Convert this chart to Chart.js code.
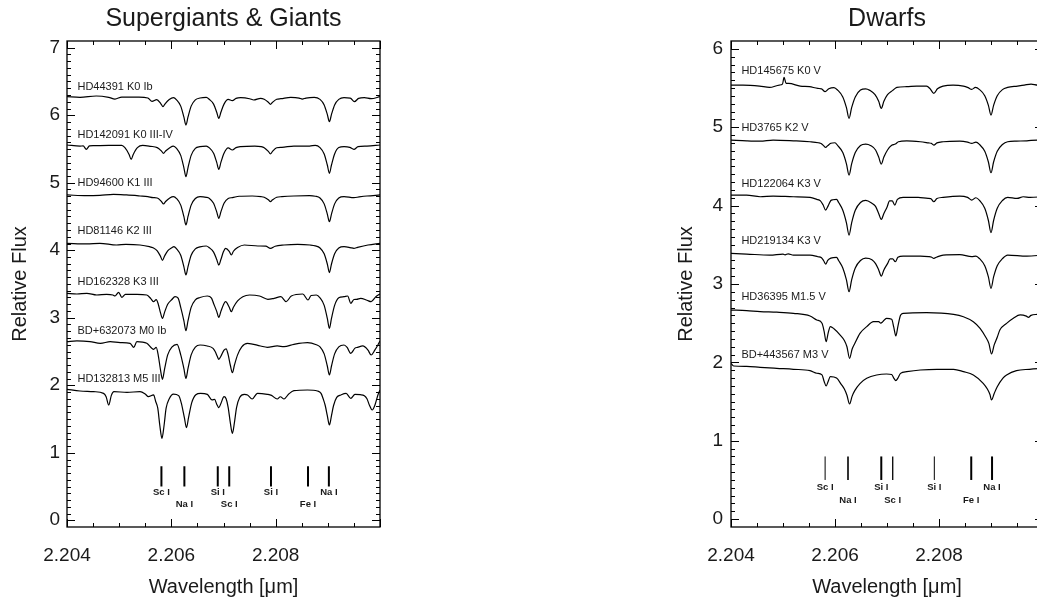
<!DOCTYPE html>
<html>
<head>
<meta charset="utf-8">
<title>Spectra</title>
<script src="https://cdn.jsdelivr.net/npm/chart.js@4.4.1/dist/chart.umd.min.js"></script>
<style>
    html, body { margin: 0; padding: 0; background: #fff; overflow: hidden; }
    body { position: relative; width: 1037px; height: 605px; }
    canvas { position: absolute; top: 0; }
    #giants-chart { left: 0; }
    #dwarfs-chart { left: 660px; }
</style>
</head>
<body>
<canvas id="giants-chart" width="420" height="605"></canvas>
<canvas id="dwarfs-chart" width="420" height="605"></canvas>
<script>
/**
 * K밴드 2.204-2.210 μm 구간 스펙트럼 (거성 / 왜성)
 * 각 별의 스펙트럼은 [파장, 상대 플럭스] 목록입니다.
 */

// 축 눈금
const waveTicks = [2.204, 2.206, 2.208];
const giantFluxTicks = [0, 1, 2, 3, 4, 5, 6, 7];
const dwarfFluxTicks = [0, 1, 2, 3, 4, 5, 6];

// 흡수선 표시
const markWaves = [2.20581, 2.20625, 2.20689, 2.20711, 2.20791, 2.20862, 2.20902];
const markNames = ['Sc I', 'Na I', 'Si I', 'Sc I', 'Si I', 'Fe I', 'Na I'];

// 별 이름
const giantNames = ['HD44391 K0 Ib', 'HD142091 K0 III-IV', 'HD94600 K1 III', 'HD81146 K2 III',
    'HD162328 K3 III', 'BD+632073 M0 Ib', 'HD132813 M5 III'];
const dwarfNames = ['HD145675 K0 V', 'HD3765 K2 V', 'HD122064 K3 V', 'HD219134 K3 V',
    'HD36395 M1.5 V', 'BD+443567 M3 V'];

// 거성 스펙트럼
const hd44391 = [
    [2.20400, 6.275], [2.20425, 6.265], [2.20456, 6.285], [2.20480, 6.265], [2.20492, 6.240], [2.20505, 6.270],
    [2.20538, 6.270], [2.20555, 6.255], [2.20563, 6.205],
    [2.20572, 6.232], [2.20580, 6.170], [2.20584, 6.127], [2.20588, 6.170], [2.20596, 6.232], [2.20604, 6.260],
    [2.20610, 6.227], [2.20618, 6.135], [2.20624, 5.975], [2.20628, 5.855], [2.20632, 5.975], [2.20638, 6.135], [2.20646, 6.227],
    [2.20655, 6.255], [2.20667, 6.265],
    [2.20673, 6.234], [2.20681, 6.165], [2.20687, 6.045], [2.20691, 5.954], [2.20695, 6.045], [2.20701, 6.165], [2.20709, 6.234],
    [2.20717, 6.216], [2.20724, 6.250], [2.20733, 6.260], [2.20750, 6.245], [2.20758, 6.226], [2.20771, 6.250],
    [2.20778, 6.237], [2.20786, 6.192], [2.20790, 6.161], [2.20794, 6.192], [2.20802, 6.237],
    [2.20810, 6.245], [2.20829, 6.265], [2.20845, 6.255], [2.20851, 6.240], [2.20858, 6.255], [2.20874, 6.265],
    [2.20885, 6.235], [2.20893, 6.153], [2.20899, 6.012], [2.20903, 5.905], [2.20907, 6.012], [2.20913, 6.153], [2.20921, 6.235],
    [2.20931, 6.260], [2.20943, 6.255], [2.20951, 6.201], [2.20959, 6.250], [2.20970, 6.260], [2.20983, 6.245], [2.21000, 6.275]
];
const hd142091 = [
    [2.20400, 5.559], [2.20425, 5.544], [2.20431, 5.545], [2.20437, 5.495], [2.20443, 5.545], [2.20451, 5.549],
    [2.20480, 5.554], [2.20505, 5.554],
    [2.20511, 5.520], [2.20519, 5.420], [2.20523, 5.347], [2.20527, 5.420], [2.20535, 5.520], [2.20545, 5.554],
    [2.20560, 5.540],
    [2.20573, 5.520], [2.20581, 5.470], [2.20585, 5.436], [2.20589, 5.470], [2.20597, 5.520], [2.20604, 5.544],
    [2.20610, 5.509], [2.20618, 5.405], [2.20624, 5.225], [2.20628, 5.090], [2.20632, 5.225], [2.20638, 5.405], [2.20646, 5.509],
    [2.20655, 5.535], [2.20667, 5.544],
    [2.20673, 5.516], [2.20681, 5.438], [2.20687, 5.302], [2.20691, 5.199], [2.20695, 5.302], [2.20701, 5.438], [2.20709, 5.516],
    [2.20717, 5.485], [2.20724, 5.520], [2.20733, 5.535], [2.20760, 5.544], [2.20772, 5.535],
    [2.20778, 5.519], [2.20786, 5.464], [2.20790, 5.426], [2.20794, 5.464], [2.20802, 5.519],
    [2.20812, 5.525], [2.20835, 5.544], [2.20865, 5.544], [2.20876, 5.554],
    [2.20885, 5.521], [2.20893, 5.427], [2.20899, 5.263], [2.20903, 5.140], [2.20907, 5.263], [2.20913, 5.427], [2.20921, 5.521],
    [2.20931, 5.535], [2.20942, 5.525], [2.20950, 5.495], [2.20958, 5.535], [2.20975, 5.544], [2.21000, 5.559]
];
const hd94600 = [
    [2.20400, 4.819], [2.20438, 4.809], [2.20463, 4.814], [2.20489, 4.828], [2.20514, 4.819], [2.20540, 4.804],
    [2.20555, 4.794], [2.20565, 4.779],
    [2.20573, 4.774], [2.20581, 4.722], [2.20585, 4.685], [2.20589, 4.722], [2.20597, 4.774], [2.20604, 4.794],
    [2.20610, 4.766], [2.20618, 4.669], [2.20624, 4.501], [2.20628, 4.374], [2.20632, 4.501], [2.20638, 4.669], [2.20646, 4.766],
    [2.20655, 4.794], [2.20667, 4.784],
    [2.20673, 4.768], [2.20681, 4.695], [2.20687, 4.568], [2.20691, 4.473], [2.20695, 4.568], [2.20701, 4.695], [2.20709, 4.768],
    [2.20717, 4.780], [2.20730, 4.800], [2.20755, 4.804], [2.20772, 4.794],
    [2.20778, 4.785], [2.20786, 4.747], [2.20790, 4.720], [2.20794, 4.747], [2.20802, 4.785],
    [2.20812, 4.794], [2.20835, 4.804], [2.20865, 4.809], [2.20876, 4.800],
    [2.20885, 4.774], [2.20893, 4.687], [2.20899, 4.536], [2.20903, 4.423], [2.20907, 4.536], [2.20913, 4.687], [2.20921, 4.774],
    [2.20931, 4.794], [2.20950, 4.779], [2.20960, 4.790], [2.20975, 4.804], [2.21000, 4.819]
];
const hd81146 = [
    [2.20400, 4.103], [2.20438, 4.093], [2.20463, 4.103], [2.20495, 4.078], [2.20513, 4.088], [2.20540, 4.078], [2.20558, 4.053],
    [2.20565, 4.036], [2.20573, 3.992], [2.20579, 3.914], [2.20583, 3.850], [2.20587, 3.914], [2.20593, 3.992], [2.20601, 4.036],
    [2.20605, 4.055],
    [2.20610, 4.021], [2.20618, 3.925], [2.20624, 3.758], [2.20628, 3.633], [2.20632, 3.758], [2.20638, 3.925], [2.20646, 4.021],
    [2.20655, 4.050], [2.20667, 4.063],
    [2.20673, 4.036], [2.20681, 3.973], [2.20687, 3.863], [2.20691, 3.781], [2.20695, 3.863], [2.20700, 3.980],
    [2.20704, 4.028], [2.20711, 3.985], [2.20715, 3.930], [2.20719, 3.985], [2.20727, 4.040],
    [2.20740, 4.078], [2.20766, 4.063], [2.20781, 4.060], [2.20790, 4.028], [2.20799, 4.060], [2.20816, 4.078],
    [2.20842, 4.088], [2.20866, 4.078], [2.20876, 4.065],
    [2.20885, 4.034], [2.20893, 3.947], [2.20899, 3.796], [2.20903, 3.670], [2.20907, 3.796], [2.20913, 3.947], [2.20921, 4.034],
    [2.20931, 4.053], [2.20943, 4.040], [2.20950, 4.028], [2.20957, 4.043], [2.20977, 4.078], [2.21000, 4.103]
];
const hd162328 = [
    [2.20400, 3.362], [2.20419, 3.352], [2.20438, 3.362], [2.20457, 3.337], [2.20476, 3.347], [2.20488, 3.337],
    [2.20492, 3.322], [2.20499, 3.377], [2.20505, 3.302], [2.20512, 3.347], [2.20534, 3.347], [2.20553, 3.337],
    [2.20561, 3.280], [2.20566, 3.238], [2.20571, 3.270],
    [2.20575, 3.200], [2.20579, 3.080], [2.20583, 2.991], [2.20587, 3.080], [2.20593, 3.200], [2.20601, 3.270],
    [2.20607, 3.312], [2.20613, 3.290],
    [2.20618, 3.153], [2.20624, 2.957], [2.20628, 2.809], [2.20632, 2.957], [2.20638, 3.153], [2.20646, 3.266],
    [2.20655, 3.300], [2.20669, 3.322], [2.20677, 3.290],
    [2.20681, 3.212], [2.20687, 3.094], [2.20691, 3.006], [2.20695, 3.094], [2.20701, 3.212], [2.20704, 3.238],
    [2.20711, 3.156], [2.20715, 3.090], [2.20719, 3.156], [2.20727, 3.250],
    [2.20737, 3.312], [2.20750, 3.337], [2.20769, 3.322], [2.20785, 3.273], [2.20797, 3.288], [2.20810, 3.312],
    [2.20820, 3.238], [2.20830, 3.322], [2.20852, 3.352], [2.20862, 3.263], [2.20868, 3.330], [2.20878, 3.337],
    [2.20885, 3.296], [2.20893, 3.184], [2.20899, 2.990], [2.20903, 2.843], [2.20907, 2.990], [2.20913, 3.184], [2.20921, 3.296],
    [2.20931, 3.312], [2.20938, 3.322], [2.20944, 3.214], [2.20950, 3.270], [2.20955, 3.273], [2.20963, 3.288],
    [2.20975, 3.260], [2.20983, 3.238], [2.20992, 3.312], [2.21000, 3.352]
];
const bd632073 = [
    [2.20400, 2.646], [2.20419, 2.656], [2.20444, 2.646], [2.20464, 2.621], [2.20483, 2.646], [2.20502, 2.631],
    [2.20521, 2.621], [2.20528, 2.562], [2.20534, 2.646], [2.20553, 2.621], [2.20566, 2.532], [2.20571, 2.560],
    [2.20575, 2.440], [2.20579, 2.240], [2.20583, 2.088], [2.20587, 2.240], [2.20593, 2.450], [2.20601, 2.565], [2.20611, 2.606],
    [2.20618, 2.450], [2.20624, 2.250], [2.20628, 2.102], [2.20632, 2.250], [2.20638, 2.450], [2.20646, 2.565],
    [2.20655, 2.596], [2.20669, 2.582], [2.20680, 2.547],
    [2.20684, 2.500], [2.20688, 2.430], [2.20691, 2.384], [2.20695, 2.430], [2.20701, 2.520], [2.20705, 2.540],
    [2.20709, 2.450], [2.20713, 2.300], [2.20717, 2.186], [2.20721, 2.300], [2.20727, 2.450], [2.20735, 2.570],
    [2.20746, 2.621], [2.20771, 2.582], [2.20784, 2.562], [2.20803, 2.582], [2.20816, 2.572], [2.20835, 2.606],
    [2.20861, 2.631], [2.20878, 2.600],
    [2.20885, 2.569], [2.20893, 2.465], [2.20899, 2.285], [2.20903, 2.152], [2.20907, 2.285], [2.20913, 2.465], [2.20921, 2.569],
    [2.20931, 2.596], [2.20937, 2.560], [2.20944, 2.473], [2.20952, 2.550], [2.20957, 2.562], [2.20967, 2.582],
    [2.20977, 2.520], [2.20983, 2.448], [2.20990, 2.520], [2.20996, 2.596], [2.21000, 2.656]
];
const hd132813 = [
    [2.20400, 1.940], [2.20425, 1.915], [2.20451, 1.905], [2.20470, 1.880], [2.20475, 1.830], [2.20480, 1.707],
    [2.20485, 1.850], [2.20490, 1.905], [2.20515, 1.895], [2.20540, 1.905], [2.20550, 1.870], [2.20556, 1.831], [2.20566, 1.856],
    [2.20570, 1.760], [2.20574, 1.660], [2.20578, 1.400], [2.20582, 1.214], [2.20586, 1.400], [2.20590, 1.660],
    [2.20596, 1.800], [2.20604, 1.870], [2.20614, 1.846],
    [2.20619, 1.740], [2.20625, 1.520], [2.20629, 1.372], [2.20633, 1.520], [2.20639, 1.740], [2.20647, 1.860],
    [2.20656, 1.880], [2.20669, 1.865], [2.20678, 1.782], [2.20683, 1.790],
    [2.20687, 1.720], [2.20691, 1.668], [2.20695, 1.730], [2.20701, 1.831],
    [2.20705, 1.800], [2.20709, 1.670], [2.20713, 1.450], [2.20717, 1.288], [2.20721, 1.450], [2.20725, 1.670], [2.20731, 1.820],
    [2.20740, 1.865], [2.20746, 1.856], [2.20755, 1.796], [2.20765, 1.880], [2.20784, 1.865], [2.20792, 1.850],
    [2.20803, 1.796], [2.20809, 1.830], [2.20816, 1.796], [2.20825, 1.870], [2.20835, 1.920], [2.20861, 1.930],
    [2.20880, 1.915], [2.20887, 1.880],
    [2.20891, 1.800], [2.20895, 1.700], [2.20899, 1.550], [2.20903, 1.411], [2.20907, 1.550], [2.20911, 1.700], [2.20917, 1.820],
    [2.20925, 1.856], [2.20935, 1.880], [2.20944, 1.806], [2.20952, 1.865], [2.20962, 1.860], [2.20970, 1.846],
    [2.20975, 1.800], [2.20980, 1.700], [2.20985, 1.633], [2.20990, 1.700], [2.20996, 1.856], [2.21000, 1.930]
];

// 왜성 스펙트럼
const hd145675 = [
    [2.20400, 5.538], [2.20423, 5.538], [2.20455, 5.525], [2.20474, 5.508], [2.20493, 5.538], [2.20499, 5.550],
    [2.20502, 5.636], [2.20506, 5.560], [2.20511, 5.559], [2.20533, 5.525], [2.20551, 5.517], [2.20567, 5.495],
    [2.20574, 5.490], [2.20581, 5.453], [2.20588, 5.490], [2.20598, 5.505],
    [2.20605, 5.474], [2.20615, 5.387], [2.20622, 5.250], [2.20627, 5.113], [2.20632, 5.250], [2.20639, 5.387], [2.20649, 5.474],
    [2.20659, 5.490],
    [2.20667, 5.470], [2.20677, 5.415], [2.20684, 5.330], [2.20689, 5.240], [2.20694, 5.330], [2.20701, 5.415], [2.20711, 5.470],
    [2.20719, 5.508], [2.20738, 5.517], [2.20757, 5.525], [2.20776, 5.525],
    [2.20783, 5.490], [2.20790, 5.431], [2.20797, 5.490],
    [2.20808, 5.525], [2.20827, 5.538], [2.20847, 5.525], [2.20856, 5.505], [2.20863, 5.483], [2.20870, 5.508],
    [2.20878, 5.480], [2.20888, 5.402], [2.20895, 5.279], [2.20900, 5.155], [2.20905, 5.279], [2.20912, 5.402], [2.20922, 5.480],
    [2.20932, 5.508], [2.20951, 5.525], [2.20964, 5.538], [2.20977, 5.551], [2.20990, 5.538], [2.21000, 5.540]
];
const hd3765 = [
    [2.20400, 4.836], [2.20430, 4.827], [2.20456, 4.823], [2.20481, 4.836], [2.20520, 4.827], [2.20552, 4.815], [2.20568, 4.802],
    [2.20574, 4.790], [2.20578, 4.765], [2.20582, 4.742], [2.20586, 4.765], [2.20592, 4.795], [2.20600, 4.802],
    [2.20605, 4.767], [2.20615, 4.677], [2.20622, 4.533], [2.20627, 4.390], [2.20632, 4.533], [2.20639, 4.677], [2.20649, 4.767],
    [2.20659, 4.785],
    [2.20669, 4.765], [2.20678, 4.710], [2.20684, 4.620], [2.20689, 4.530], [2.20694, 4.620], [2.20701, 4.710], [2.20709, 4.770],
    [2.20716, 4.785], [2.20722, 4.815], [2.20738, 4.827], [2.20764, 4.815], [2.20780, 4.800],
    [2.20785, 4.795], [2.20790, 4.772], [2.20796, 4.800],
    [2.20808, 4.815], [2.20840, 4.823], [2.20855, 4.810], [2.20863, 4.793], [2.20871, 4.810],
    [2.20878, 4.779], [2.20888, 4.693], [2.20895, 4.556], [2.20900, 4.419], [2.20905, 4.556], [2.20912, 4.693], [2.20922, 4.779],
    [2.20932, 4.815], [2.20949, 4.823], [2.20969, 4.827], [2.20989, 4.836], [2.21000, 4.836]
];
const hd122064 = [
    [2.20400, 4.134], [2.20430, 4.134], [2.20456, 4.113], [2.20481, 4.122], [2.20520, 4.113], [2.20552, 4.105], [2.20565, 4.079],
    [2.20572, 4.060], [2.20577, 4.010], [2.20582, 3.943], [2.20587, 4.000], [2.20592, 4.065], [2.20596, 4.075], [2.20603, 4.079],
    [2.20607, 4.040], [2.20615, 3.940], [2.20622, 3.780], [2.20627, 3.624], [2.20632, 3.780], [2.20639, 3.940], [2.20649, 4.040],
    [2.20659, 4.066],
    [2.20671, 4.030], [2.20678, 3.990], [2.20684, 3.900], [2.20689, 3.824], [2.20694, 3.900], [2.20700, 3.980],
    [2.20705, 4.060], [2.20710, 4.060], [2.20715, 4.007], [2.20720, 4.080], [2.20731, 4.105],
    [2.20760, 4.105], [2.20779, 4.092],
    [2.20784, 4.090], [2.20790, 4.049], [2.20796, 4.090],
    [2.20808, 4.105], [2.20840, 4.122], [2.20855, 4.105], [2.20863, 4.071], [2.20871, 4.100],
    [2.20878, 4.065], [2.20888, 3.966], [2.20895, 3.810], [2.20900, 3.654], [2.20905, 3.810], [2.20912, 3.966], [2.20922, 4.065],
    [2.20932, 4.105], [2.20950, 4.092], [2.20962, 4.113], [2.20975, 4.105], [2.21000, 4.113]
];
const hd219134 = [
    [2.20400, 3.390], [2.20430, 3.382], [2.20475, 3.369], [2.20500, 3.382], [2.20504, 3.372], [2.20510, 3.385],
    [2.20520, 3.369], [2.20552, 3.369], [2.20567, 3.348],
    [2.20574, 3.335], [2.20578, 3.300], [2.20582, 3.254], [2.20586, 3.300], [2.20592, 3.330], [2.20603, 3.339],
    [2.20607, 3.300], [2.20615, 3.205], [2.20622, 3.053], [2.20627, 2.901], [2.20632, 3.053], [2.20639, 3.205], [2.20649, 3.300],
    [2.20659, 3.330],
    [2.20671, 3.310], [2.20678, 3.260], [2.20684, 3.180], [2.20689, 3.101], [2.20694, 3.180], [2.20701, 3.260], [2.20706, 3.320],
    [2.20711, 3.320], [2.20716, 3.284], [2.20721, 3.340], [2.20731, 3.356],
    [2.20764, 3.356], [2.20780, 3.350],
    [2.20785, 3.345], [2.20790, 3.327], [2.20796, 3.345],
    [2.20808, 3.369], [2.20840, 3.375], [2.20863, 3.348], [2.20871, 3.356],
    [2.20878, 3.323], [2.20888, 3.233], [2.20895, 3.090], [2.20900, 2.945], [2.20905, 3.090], [2.20912, 3.233], [2.20922, 3.323],
    [2.20932, 3.369], [2.20969, 3.356], [2.21000, 3.369]
];
const hd36395 = [
    [2.20400, 2.668], [2.20430, 2.660], [2.20456, 2.647], [2.20488, 2.640], [2.20520, 2.626], [2.20552, 2.592],
    [2.20565, 2.541], [2.20575, 2.500],
    [2.20579, 2.400], [2.20583, 2.264], [2.20587, 2.380], [2.20591, 2.456],
    [2.20598, 2.430], [2.20610, 2.349], [2.20618, 2.280], [2.20623, 2.200], [2.20628, 2.052], [2.20633, 2.170],
    [2.20638, 2.240], [2.20648, 2.371], [2.20661, 2.456], [2.20674, 2.519],
    [2.20684, 2.520], [2.20688, 2.500], [2.20692, 2.520], [2.20699, 2.562], [2.20709, 2.549],
    [2.20713, 2.450], [2.20717, 2.337], [2.20721, 2.460], [2.20726, 2.600], [2.20731, 2.626],
    [2.20776, 2.634], [2.20828, 2.613], [2.20847, 2.583], [2.20866, 2.519], [2.20879, 2.434], [2.20890, 2.320],
    [2.20896, 2.240], [2.20901, 2.107], [2.20906, 2.220], [2.20912, 2.320], [2.20917, 2.413], [2.20930, 2.498],
    [2.20943, 2.562], [2.20956, 2.605], [2.20968, 2.590], [2.20972, 2.575], [2.20977, 2.600], [2.20989, 2.613], [2.21000, 2.620]
];
const bd443567 = [
    [2.20400, 1.988], [2.20405, 1.954], [2.20430, 1.950], [2.20456, 1.937], [2.20488, 1.924], [2.20520, 1.912],
    [2.20552, 1.895], [2.20565, 1.861], [2.20575, 1.840],
    [2.20579, 1.760], [2.20583, 1.699], [2.20587, 1.760], [2.20591, 1.818],
    [2.20603, 1.800], [2.20612, 1.720], [2.20618, 1.660], [2.20623, 1.580], [2.20628, 1.469], [2.20633, 1.570],
    [2.20638, 1.640], [2.20648, 1.730], [2.20661, 1.797], [2.20680, 1.839], [2.20699, 1.852], [2.20709, 1.845],
    [2.20713, 1.800], [2.20717, 1.767], [2.20721, 1.800], [2.20726, 1.860], [2.20738, 1.882], [2.20764, 1.903],
    [2.20796, 1.912], [2.20828, 1.912], [2.20847, 1.882], [2.20866, 1.839],
    [2.20885, 1.733], [2.20893, 1.660], [2.20898, 1.590], [2.20901, 1.520], [2.20906, 1.600], [2.20912, 1.690],
    [2.20923, 1.800], [2.20930, 1.839], [2.20949, 1.895], [2.20974, 1.912], [2.21000, 1.924]
];

const FONT = "'Liberation Sans', Arial, Helvetica, sans-serif";
const INK = '#1a1a1a';

/**
 * 스펙트럼 패널 하나 (축 상자, 안쪽 눈금, 라벨 포함)
 */
class SpectraPanel {
    constructor(setup) {
        this.setup = setup;
        this.chart = null;
    }

    /**
     * 차트 생성
     */
    initialize() {
        const s = this.setup;
        const ctx = document.getElementById(s.canvasId).getContext('2d');

        this.chart = new Chart(ctx, {
            type: 'line',
            data: {
                datasets: s.spectra.map((points, i) => ({
                    label: s.names[i],
                    data: points.map(([x, y]) => ({ x, y })),
                    borderColor: '#000',
                    borderWidth: 1.2,
                    pointRadius: 0,
                    cubicInterpolationMode: 'monotone',
                    fill: false
                }))
            },
            options: {
                responsive: false,
                animation: false,
                devicePixelRatio: 1,
                layout: { padding: { top: 41, right: s.padRight, left: 0, bottom: 0 } },
                plugins: {
                    legend: { display: false },
                    tooltip: { enabled: false }
                },
                scales: {
                    x: {
                        type: 'linear',
                        min: 2.204,
                        max: 2.210,
                        afterBuildTicks: scale => { scale.ticks = waveTicks.map(v => ({ value: v })); },
                        afterFit: scale => { scale.height = 78; },
                        grid: { display: false, drawTicks: false },
                        border: { display: false },
                        ticks: {
                            font: { family: FONT, size: 19 },
                            color: INK,
                            padding: 17,
                            maxRotation: 0,
                            autoSkip: false,
                            callback: v => v.toFixed(3)
                        }
                    },
                    y: {
                        type: 'linear',
                        min: -0.1,
                        max: s.fluxTicks[s.fluxTicks.length - 1] + 0.1,
                        afterBuildTicks: scale => { scale.ticks = s.fluxTicks.map(v => ({ value: v })); },
                        afterFit: scale => { scale.width = s.axisWidth; },
                        grid: { display: false, drawTicks: false },
                        border: { display: false },
                        ticks: {
                            font: { family: FONT, size: 19 },
                            color: INK,
                            padding: s.labelGap,
                            autoSkip: false,
                            callback: v => v.toFixed(0)
                        }
                    }
                }
            },
            plugins: [{ id: 'panelFrame', afterDraw: chart => this.drawFrame(chart) }]
        });
    }

    /**
     * 축 상자, 눈금, 제목, 별 이름, 흡수선 표시 그리기
     * @private
     */
    drawFrame(chart) {
        const s = this.setup;
        const { ctx, chartArea: area, scales: { x, y } } = chart;
        const midX = (area.left + area.right) / 2;
        const midY = (area.top + area.bottom) / 2;
        const yTop = s.fluxTicks[s.fluxTicks.length - 1];

        ctx.save();

        // 축 상자
        ctx.strokeStyle = '#000';
        ctx.lineWidth = 1.3;
        ctx.strokeRect(area.left, area.top, area.right - area.left, area.bottom - area.top);

        // 네 변 모두 안쪽 눈금
        ctx.lineWidth = 1;
        ctx.beginPath();
        for (let k = 0; k <= 12; k++) {
            const px = Math.round(x.getPixelForValue(2.204 + k * 0.0005)) + 0.5;
            const len = k % 4 === 0 ? 8 : 4;
            ctx.moveTo(px, area.bottom);
            ctx.lineTo(px, area.bottom - len);
            ctx.moveTo(px, area.top);
            ctx.lineTo(px, area.top + len);
        }
        for (let k = 0; k <= yTop * 10; k++) {
            const py = Math.round(y.getPixelForValue(k / 10)) + 0.5;
            const len = k % 10 === 0 ? 8 : 4;
            ctx.moveTo(area.left, py);
            ctx.lineTo(area.left + len, py);
            ctx.moveTo(area.right, py);
            ctx.lineTo(area.right - len, py);
        }
        ctx.stroke();

        ctx.fillStyle = INK;

        // 패널 제목
        ctx.font = `25px ${FONT}`;
        ctx.textAlign = 'center';
        ctx.textBaseline = 'alphabetic';
        ctx.fillText(s.title, midX, 26);

        // 축 제목
        ctx.font = `20px ${FONT}`;
        ctx.textBaseline = 'middle';
        ctx.fillText('Wavelength [\u03bcm]', midX, 587);

        ctx.save();
        ctx.translate(s.yTitleX, midY);
        ctx.rotate(-Math.PI / 2);
        ctx.fillText('Relative Flux', 0, 0);
        ctx.restore();

        // 별 이름
        ctx.font = `11px ${FONT}`;
        ctx.textAlign = 'left';
        s.names.forEach((name, i) => {
            ctx.fillText(name, x.getPixelForValue(2.2042), y.getPixelForValue(s.labelFlux[i]));
        });

        // 흡수선 위치 표시
        ctx.strokeStyle = '#000';
        ctx.textAlign = 'center';
        ctx.font = `bold 9.5px ${FONT}`;
        markWaves.forEach((wave, i) => {
            const px = x.getPixelForValue(wave);
            ctx.lineWidth = s.markWidths[i];
            ctx.beginPath();
            ctx.moveTo(px, y.getPixelForValue(0.8));
            ctx.lineTo(px, y.getPixelForValue(0.5));
            ctx.stroke();
            const level = i % 2 === 0 ? 0.41 : 0.235;
            ctx.fillText(markNames[i], px, y.getPixelForValue(level));
        });

        ctx.restore();
    }
}

const giantsPanel = new SpectraPanel({
    canvasId: 'giants-chart',
    title: 'Supergiants & Giants',
    names: giantNames,
    spectra: [hd44391, hd142091, hd94600, hd81146, hd162328, bd632073, hd132813],
    fluxTicks: giantFluxTicks,
    labelFlux: [6.42, 5.71, 4.99, 4.28, 3.53, 2.81, 2.10],
    markWidths: [2, 2, 2, 2, 2, 2, 2],
    axisWidth: 67,
    padRight: 40,
    labelGap: 7,
    yTitleX: 20
});

const dwarfsPanel = new SpectraPanel({
    canvasId: 'dwarfs-chart',
    title: 'Dwarfs',
    names: dwarfNames,
    spectra: [hd145675, hd3765, hd122064, hd219134, hd36395, bd443567],
    fluxTicks: dwarfFluxTicks,
    labelFlux: [5.72, 4.99, 4.28, 3.55, 2.84, 2.10],
    markWidths: [1, 1.6, 2, 1.3, 1, 2, 2],
    axisWidth: 71,
    padRight: 37,
    labelGap: 8,
    yTitleX: 26
});

giantsPanel.initialize();
dwarfsPanel.initialize();
</script>
</body>
</html>
